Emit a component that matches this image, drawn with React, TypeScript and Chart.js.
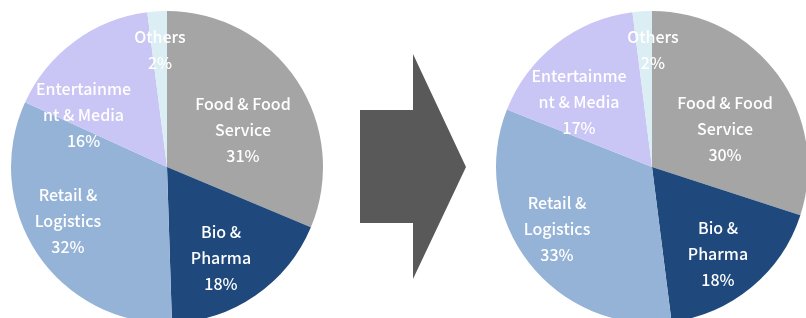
import React, { useEffect, useRef } from "react";
import { Chart, registerables } from "chart.js";

Chart.register(...registerables);

// ---- data ----
const CATEGORIES = ["Food & Food Service", "Bio & Pharma", "Retail & Logistics", "Entertainment & Media", "Others"];
const LABEL_LINES = [["Food & Food", "Service"], ["Bio &", "Pharma"], ["Retail &", "Logistics"], ["Entertainme", "nt & Media"], ["Others"]];
const LEFT_VALUES = [31, 18, 32, 16, 2];
const RIGHT_VALUES = [30, 18, 33, 17, 2];

// ---- style / layout ----
const COLORS = ["#A5A5A5", "#1F497D", "#95B3D7", "#C9C5F5", "#DAEEF3"];
// label block centres, as fractions of the pie radius from the pie centre
const LEFT_LABEL_POS = [[0.487, -0.237], [0.346, 0.583], [-0.635, 0.346], [-0.535, -0.333], [-0.045, -0.75]];
const RIGHT_LABEL_POS = [[0.468, -0.244], [0.423, 0.558], [-0.609, 0.397], [-0.468, -0.417], [0.006, -0.75]];
const FONT = '500 16px "Noto Sans CJK KR", "Noto Sans", sans-serif';
const LINE_H = 26;

function makeLabelPlugin(pos: number[][]) {
  return {
    id: "sliceLabels",
    afterDatasetsDraw(chart: any) {
      const ctx = chart.ctx;
      const meta = chart.getDatasetMeta(0);
      const vals = chart.data.datasets[0].data as number[];
      ctx.save();
      ctx.font = FONT;
      ctx.fillStyle = "#FFFFFF";
      ctx.textAlign = "center";
      ctx.textBaseline = "middle";
      meta.data.forEach((arc: any, i: number) => {
        const R = arc.outerRadius;
        const cx = arc.x + pos[i][0] * R;
        const cy = arc.y + pos[i][1] * R;
        const lines = [...LABEL_LINES[i], `${vals[i]}%`];
        const top = cy - ((lines.length - 1) * LINE_H) / 2;
        lines.forEach((t, k) => ctx.fillText(t, cx, top + k * LINE_H));
      });
      ctx.restore();
    },
  };
}

function Pie({ values, pos, left }: { values: number[]; pos: number[][]; left: number }) {
  const ref = useRef<HTMLCanvasElement>(null);
  useEffect(() => {
    if (!ref.current) return;
    const chart = new Chart(ref.current, {
      type: "pie",
      data: {
        labels: CATEGORIES,
        datasets: [{ data: values, backgroundColor: COLORS, borderWidth: 0 }],
      },
      options: {
        animation: false,
        responsive: false,
        maintainAspectRatio: false,
        layout: { padding: 4 },
        plugins: { legend: { display: false }, tooltip: { enabled: false } },
      },
      plugins: [makeLabelPlugin(pos)],
    });
    return () => chart.destroy();
  }, []);
  return (
    <canvas
      ref={ref}
      width={320}
      height={320}
      style={{ position: "absolute", left, top: 7, width: 320, height: 320 }}
    />
  );
}

export default function App() {
  return (
    <div
      style={{
        position: "fixed",
        left: 0,
        top: 0,
        width: 806,
        height: 318,
        overflow: "hidden",
        background: "#FFFFFF",
      }}
    >
      <Pie values={LEFT_VALUES} pos={LEFT_LABEL_POS} left={7} />
      <svg width={806} height={318} style={{ position: "absolute", left: 0, top: 0 }}>
        <polygon points="360,110 413,110 413,54 466,167 413,279 413,223 360,223" fill="#595959" />
      </svg>
      <Pie values={RIGHT_VALUES} pos={RIGHT_LABEL_POS} left={492} />
    </div>
  );
}
